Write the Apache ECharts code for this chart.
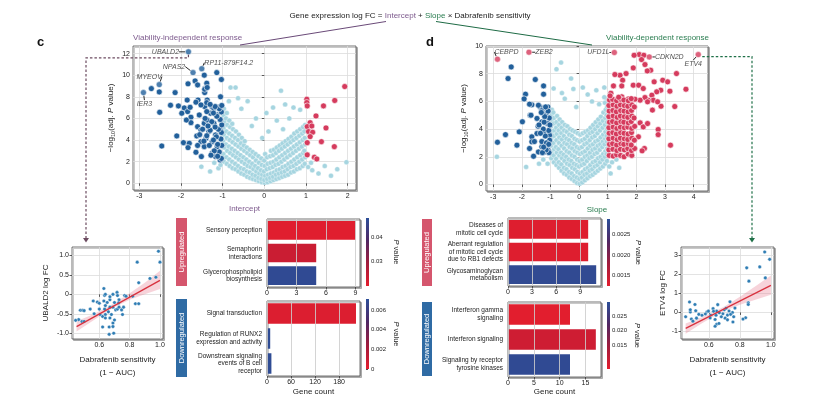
<!DOCTYPE html>
<html><head><meta charset="utf-8">
<script src="https://cdn.jsdelivr.net/npm/echarts@6/dist/echarts.min.js"></script>
<style>html,body{margin:0;padding:0;background:#fff}#c{width:817px;height:395px}</style>
</head><body><div id="c"></div>
<script>
// ---------------- DATA ----------------
// Panel c volcano (x = Intercept, y = -log10 adj P)
const volcCLight = [
[-0.97,2.0],[-0.98,2.7],[-0.96,3.3],[-0.99,3.9],[-0.97,4.5],[-0.98,5.1],[-0.96,5.7],[-0.98,6.3],[-0.97,6.9],
[-0.9,1.8],[-0.91,2.4],[-0.89,3.0],[-0.92,3.6],[-0.9,4.2],[-0.91,4.8],[-0.89,5.4],[-0.92,6.0],[-0.9,6.5],
[-0.83,1.6],[-0.84,2.2],[-0.82,2.8],[-0.85,3.4],[-0.83,4.0],[-0.84,4.6],[-0.82,5.2],[-0.84,5.8],
[-0.76,1.4],[-0.77,2.0],[-0.75,2.6],[-0.78,3.2],[-0.76,3.8],[-0.77,4.4],[-0.75,5.0],[-0.77,5.5],
[-0.69,1.3],[-0.7,1.8],[-0.68,2.4],[-0.71,3.0],[-0.69,3.6],[-0.7,4.2],[-0.68,4.8],
[-0.62,1.1],[-0.63,1.6],[-0.61,2.2],[-0.64,2.8],[-0.62,3.4],[-0.63,4.0],[-0.61,4.5],
[-0.55,0.9],[-0.56,1.4],[-0.54,2.0],[-0.57,2.6],[-0.55,3.2],[-0.56,3.7],[-0.54,4.2],
[-0.48,0.8],[-0.49,1.3],[-0.47,1.8],[-0.5,2.4],[-0.48,3.0],[-0.49,3.5],[-0.47,3.9],
[-0.41,0.6],[-0.42,1.1],[-0.4,1.6],[-0.43,2.2],[-0.41,2.8],[-0.42,3.3],
[-0.34,0.5],[-0.35,1.0],[-0.33,1.5],[-0.36,2.0],[-0.34,2.6],[-0.35,3.1],
[-0.27,0.4],[-0.28,0.8],[-0.26,1.3],[-0.29,1.8],[-0.27,2.4],[-0.28,2.9],
[-0.2,0.3],[-0.21,0.7],[-0.19,1.1],[-0.22,1.6],[-0.2,2.1],[-0.21,2.7],
[-0.13,0.2],[-0.14,0.5],[-0.12,0.9],[-0.15,1.4],[-0.13,1.9],[-0.14,2.5],
[-0.06,0.1],[-0.07,0.4],[-0.05,0.8],[-0.08,1.2],[-0.06,1.7],[-0.07,2.3],
[0.01,0.05],[0.0,0.3],[0.02,0.7],[-0.01,1.1],[0.01,1.6],[0.0,2.1],[0.02,2.7],
[0.08,0.1],[0.07,0.4],[0.09,0.8],[0.06,1.3],[0.08,1.8],[0.07,2.4],
[0.15,0.2],[0.14,0.5],[0.16,0.9],[0.13,1.4],[0.15,1.9],[0.14,2.5],[0.16,3.0],
[0.22,0.3],[0.21,0.6],[0.23,1.0],[0.2,1.5],[0.22,2.0],[0.21,2.6],[0.23,3.1],
[0.29,0.4],[0.28,0.8],[0.3,1.2],[0.27,1.7],[0.29,2.2],[0.28,2.8],[0.3,3.3],
[0.36,0.5],[0.35,0.9],[0.37,1.3],[0.34,1.8],[0.36,2.4],[0.35,3.0],[0.37,3.5],
[0.43,0.6],[0.42,1.0],[0.44,1.5],[0.41,2.0],[0.43,2.6],[0.42,3.2],[0.44,3.7],
[0.5,0.7],[0.49,1.1],[0.51,1.6],[0.48,2.2],[0.5,2.8],[0.49,3.4],[0.51,3.9],
[0.57,0.8],[0.56,1.3],[0.58,1.8],[0.55,2.4],[0.57,3.0],[0.56,3.6],[0.58,4.1],
[0.64,1.0],[0.63,1.5],[0.65,2.0],[0.62,2.6],[0.64,3.2],[0.63,3.8],[0.65,4.3],
[0.71,1.1],[0.7,1.6],[0.72,2.2],[0.69,2.8],[0.71,3.4],[0.7,4.0],[0.72,4.6],
[0.78,1.3],[0.77,1.8],[0.79,2.4],[0.76,3.0],[0.78,3.6],[0.77,4.2],[0.79,4.8],
[0.85,1.4],[0.84,2.0],[0.86,2.6],[0.83,3.2],[0.85,3.8],[0.84,4.4],[0.86,5.0],
[0.92,1.6],[0.91,2.2],[0.93,2.8],[0.9,3.4],[0.92,4.0],[0.91,4.6],[0.93,5.2],
[0.97,1.8],[0.98,2.4],[0.96,3.0],[0.98,3.6],[0.97,4.2],[0.96,4.8],[0.98,5.4],
[-1.51,1.54],[-1.2,1.9],[-1.1,1.4],[-1.05,1.7],[-1.3,1.1],[1.05,1.5],[1.15,1.2],[1.3,0.9],[1.45,1.6],[1.6,0.7],[1.75,1.3],[1.97,1.95],[1.12,1.9],
[-0.81,8.85],[-0.69,8.85],[-0.63,7.87],[0.4,8.57],[0.5,7.3],[0.21,7.0],[0.7,7.0],[0.86,6.8],[0.05,6.5],[-0.4,7.6],[-0.55,6.9],[-0.2,6.0],[0.3,5.8],[0.6,6.0],[-0.85,7.6],[-0.3,5.3],[0.1,4.8],[0.45,5.0],[-0.05,4.2]
];
const volcCDown = [
[-1.44,10.0],[-1.14,10.24],[-1.03,9.6],[-1.66,9.47],[-1.6,9.1],[-1.83,9.2],[-1.42,8.76],[-1.38,9.26],[-1.43,8.39],[-2.71,8.76],[-2.52,8.45],[-2.14,8.39],
[-1.43,8.7],[-1.37,8.86],[-1.85,7.7],[-1.59,7.7],[-1.37,7.7],[-1.43,7.1],[-1.05,8.0],[-1.25,7.05],[-1.09,7.05],
[-2.25,7.22],[-2.06,7.16],[-2.51,6.57],[-2.1,4.38],[-2.46,3.45],[-1.94,3.76],[-1.8,3.7],[-1.83,3.3],[-1.64,2.87],[-1.51,2.47],
[-1.92,6.97],[-1.84,6.63],[-1.98,6.48],[-1.78,7.03],[-1.64,7.5],[-1.52,7.25],[-1.38,7.46],[-1.76,6.11],[-1.76,5.61],[-1.56,6.32],
[-1.6,5.24],[-1.62,4.38],[-1.52,4.93],[-1.44,5.55],[-1.37,5.86],[-1.29,6.48],[-1.21,6.94],[-1.09,7.0],[-1.13,6.32],[-1.21,5.55],
[-1.33,4.78],[-1.4,4.16],[-1.52,3.85],[-1.25,3.85],[-1.17,4.47],[-1.06,4.93],[-1.05,5.86],[-1.13,3.39],[-1.25,2.78],[-1.17,2.47],
[-1.06,2.16],[-1.44,3.39],[-1.38,6.63],[-1.87,5.85],
[-1.03,2.3],[-1.08,2.9],[-1.02,3.5],[-1.12,3.6],[-1.04,4.1],[-1.15,4.3],[-1.03,4.7],[-1.1,5.0],[-1.02,5.4],[-1.18,5.2],[-1.06,5.9],
[-1.14,6.2],[-1.03,6.6],[-1.22,6.5],[-1.26,5.7],[-1.3,4.9],[-1.22,4.0],[-1.32,3.5],[-1.2,3.0],[-1.28,2.6],[-1.12,2.5],[-1.38,4.4],
[-1.35,5.3],[-1.42,6.0],[-1.48,5.0],[-1.45,3.9],[-1.55,4.5],[-1.6,3.5],[-1.08,6.9],[-1.18,7.1],[-1.3,7.3],[-1.02,7.2]
];
const volcCUp = [
[1.93,8.95],[1.69,7.66],[1.42,7.16],[1.02,7.78],[1.02,7.47],[1.03,7.16],[1.24,6.23],[1.1,5.61],[1.03,5.24],[1.14,5.3],
[1.06,4.78],[1.16,4.72],[1.48,5.12],[1.1,4.32],[1.03,3.76],[1.37,3.85],[1.68,3.39],[1.03,2.63],[1.2,2.41],[1.26,2.25]
];
const genesCNames = ['UBALD2','RP11-879F14.2','NPAS2','MYEOV','IER3'];
const genesCValues = [[-1.82,12.16],[-1.5,10.6],[-1.71,10.24],[-2.52,9.13],[-2.9,8.39]];

// Panel d volcano (x = Slope)
const volcDLight = [
[-0.97,1.9],[-0.96,2.35],[-0.98,2.8],[-0.97,3.3],[-0.95,3.75],[-0.98,4.2],[-0.96,4.65],[-0.97,5.0],[-0.95,5.4],
[-0.88,1.6],[-0.89,2.1],[-0.87,2.55],[-0.9,3.0],[-0.88,3.5],[-0.87,3.9],[-0.89,4.4],[-0.88,4.8],[-0.9,5.2],
[-0.79,1.4],[-0.8,1.85],[-0.78,2.3],[-0.81,2.7],[-0.79,3.2],[-0.78,3.65],[-0.8,4.1],[-0.79,4.5],[-0.77,4.95],
[-0.7,1.2],[-0.71,1.6],[-0.69,2.1],[-0.72,2.55],[-0.7,3.0],[-0.69,3.4],[-0.71,3.9],[-0.7,4.3],[-0.68,4.7],
[-0.61,1.0],[-0.62,1.45],[-0.6,1.9],[-0.63,2.3],[-0.61,2.8],[-0.6,3.25],[-0.62,3.7],[-0.61,4.1],[-0.59,4.5],
[-0.52,0.8],[-0.53,1.2],[-0.51,1.7],[-0.54,2.15],[-0.52,2.6],[-0.51,3.0],[-0.53,3.5],[-0.52,3.9],[-0.5,4.3],
[-0.43,0.7],[-0.44,1.1],[-0.42,1.5],[-0.45,2.0],[-0.43,2.4],[-0.42,2.9],[-0.44,3.3],[-0.43,3.8],[-0.41,4.2],
[-0.34,0.5],[-0.35,0.9],[-0.33,1.4],[-0.36,1.8],[-0.34,2.3],[-0.33,2.7],[-0.35,3.2],[-0.34,3.6],[-0.32,4.0],
[-0.25,0.4],[-0.26,0.8],[-0.24,1.2],[-0.27,1.7],[-0.25,2.1],[-0.24,2.6],[-0.26,3.0],[-0.25,3.5],[-0.23,3.9],
[-0.16,0.25],[-0.17,0.6],[-0.15,1.1],[-0.18,1.5],[-0.16,2.0],[-0.15,2.4],[-0.17,2.9],[-0.16,3.3],[-0.14,3.8],
[-0.07,0.1],[-0.08,0.5],[-0.06,0.9],[-0.09,1.4],[-0.07,1.8],[-0.06,2.3],[-0.08,2.7],[-0.07,3.2],[-0.05,3.7],
[0.02,0.05],[0.01,0.4],[0.03,0.8],[0.0,1.3],[0.02,1.7],[0.03,2.2],[0.01,2.6],[0.02,3.1],[0.04,3.6],
[0.11,0.15],[0.1,0.5],[0.12,0.9],[0.09,1.4],[0.11,1.8],[0.12,2.3],[0.1,2.7],[0.11,3.2],[0.13,3.7],
[0.2,0.3],[0.19,0.7],[0.21,1.1],[0.18,1.5],[0.2,2.0],[0.21,2.4],[0.19,2.9],[0.2,3.3],[0.22,3.8],
[0.29,0.45],[0.28,0.8],[0.3,1.2],[0.27,1.7],[0.29,2.1],[0.3,2.6],[0.28,3.0],[0.29,3.5],[0.31,3.9],
[0.38,0.6],[0.37,1.0],[0.39,1.4],[0.36,1.9],[0.38,2.3],[0.39,2.8],[0.37,3.2],[0.38,3.7],[0.4,4.1],
[0.47,0.7],[0.46,1.1],[0.48,1.6],[0.45,2.0],[0.47,2.5],[0.48,2.9],[0.46,3.4],[0.47,3.8],[0.49,4.3],
[0.56,0.85],[0.55,1.3],[0.57,1.7],[0.54,2.2],[0.56,2.6],[0.57,3.1],[0.55,3.5],[0.56,4.0],[0.58,4.5],
[0.65,1.0],[0.64,1.4],[0.66,1.9],[0.63,2.3],[0.65,2.8],[0.66,3.2],[0.64,3.7],[0.65,4.2],[0.67,4.7],
[0.74,1.15],[0.73,1.6],[0.75,2.0],[0.72,2.5],[0.74,2.9],[0.75,3.4],[0.73,3.9],[0.74,4.4],[0.76,4.9],
[0.83,1.3],[0.82,1.8],[0.84,2.2],[0.81,2.7],[0.83,3.1],[0.84,3.6],[0.82,4.1],[0.83,4.6],[0.85,5.2],
[0.91,1.5],[0.9,2.0],[0.92,2.4],[0.89,2.9],[0.91,3.3],[0.92,3.8],[0.9,4.3],[0.91,4.8],[0.93,5.4],[0.9,5.9],
[0.97,1.7],[0.96,2.2],[0.98,2.6],[0.97,3.1],[0.96,3.5],[0.98,4.0],[0.97,4.5],[0.96,5.0],[0.98,5.6],[0.97,6.2],
[1.05,1.3],[1.15,1.6],[1.3,1.8],[1.1,0.8],[1.4,1.2],[-1.1,1.5],[-1.4,1.5],[-1.85,1.27],[-2.87,2.0],[-1.25,1.8],
[-0.63,8.8],[-0.79,8.33],[-0.28,7.65],[-0.89,6.93],[0.13,7.0],[0.88,7.0],[0.88,6.3],[-0.5,6.2],[0.3,6.5],[-0.2,6.9],[0.6,6.8],[-0.6,6.6],[0.45,6.0],[-0.1,5.6],[0.7,5.8]
];
const volcDDown = [
[-2.37,8.49],[-2.48,7.65],[-1.53,7.58],[-1.24,7.12],[-1.24,6.52],[-1.87,6.52],[-1.92,6.18],[-1.65,5.75],[-1.36,5.6],[-1.71,5.0],
[-2.85,3.05],[-2.57,3.6],[-2.17,2.84],[-1.98,4.53],[-2.09,3.8],[-1.73,2.6],[-1.65,3.44],[-1.65,3.08],[-1.42,5.72],[-1.68,5.0],
[-1.73,5.8],[-1.47,4.77],[-1.43,4.21],[-1.3,4.52],[-1.24,3.8],[-1.15,5.12],[-1.09,5.6],[-1.3,5.33],[-1.47,3.68],[-1.56,3.1],
[-1.42,2.35],[-1.2,2.35],[-1.14,2.96],[-1.08,2.47],[-1.3,2.72],[-1.59,2.04],[-1.08,4.4],[-1.03,3.56],
[-1.05,2.3],[-1.12,2.8],[-1.03,3.2],[-1.18,3.5],[-1.06,3.9],[-1.25,4.0],[-1.1,4.4],[-1.04,4.8],[-1.2,4.9],[-1.08,5.3],[-1.3,3.1],
[-1.15,2.5],[-1.28,2.3],[-1.22,4.5],[-1.35,3.7],[-1.4,4.3],[-1.14,3.0],[-1.02,4.3],[-1.32,5.2],[-1.17,5.6],[-1.06,2.9],[-1.24,2.7]
];
const volcDUp = [
[2.1,9.38],[2.26,9.33],[1.92,9.33],[2.18,9.02],[2.3,8.66],[2.5,8.25],[2.38,8.2],[1.89,8.42],[1.64,8.01],[1.43,7.89],[1.25,7.94],
[3.4,8.01],[1.52,7.53],[1.49,7.12],[1.2,7.12],[1.89,7.17],[2.08,7.17],[2.24,6.93],[2.62,7.41],[2.92,7.53],[3.09,7.41],[3.17,6.74],
[3.73,6.88],[2.85,6.81],[2.71,6.69],[2.54,6.45],[2.59,6.09],[2.41,6.09],[2.3,6.28],[2.13,6.09],[1.95,6.16],[1.72,6.18],[1.49,6.33],
[1.29,6.09],[1.11,6.59],[2.86,5.65],[3.34,5.63],[2.56,5.37],[2.39,5.97],[2.74,5.97],[2.13,4.45],[2.24,4.16],[2.39,4.4],[2.76,3.97],
[2.76,3.6],[2.07,3.44],[2.28,2.6],[2.2,2.43],[3.19,2.84],
[1.05,2.1],[1.19,2.05],[1.31,2.15],[1.45,2.1],[1.57,2.0],[1.71,2.2],[1.84,2.1],
[1.04,2.5],[1.18,2.55],[1.32,2.45],[1.44,2.55],[1.58,2.5],[1.7,2.6],[1.83,2.45],[1.94,2.6],
[1.06,2.9],[1.17,2.95],[1.31,2.85],[1.46,2.95],[1.56,2.9],[1.72,2.95],[1.82,2.85],
[1.04,3.3],[1.19,3.35],[1.33,3.25],[1.44,3.35],[1.58,3.3],[1.7,3.25],[1.84,3.35],[1.93,3.2],
[1.05,3.7],[1.18,3.75],[1.3,3.65],[1.45,3.75],[1.57,3.7],[1.71,3.65],[1.83,3.75],
[1.04,4.1],[1.19,4.15],[1.32,4.05],[1.44,4.15],[1.58,4.1],[1.7,4.15],[1.84,4.05],[1.94,4.2],
[1.06,4.5],[1.17,4.55],[1.31,4.45],[1.46,4.55],[1.56,4.5],[1.72,4.45],[1.82,4.55],
[1.04,4.9],[1.19,4.95],[1.33,4.85],[1.44,4.95],[1.58,4.9],[1.7,4.85],[1.84,4.95],[1.92,4.8],
[1.05,5.3],[1.18,5.35],[1.3,5.25],[1.45,5.35],[1.57,5.3],[1.71,5.25],[1.83,5.35],
[1.04,5.7],[1.19,5.75],[1.32,5.65],[1.44,5.75],[1.58,5.7],[1.7,5.65],[1.84,5.75],[1.93,5.6],
[1.06,6.1],[1.17,6.15],[1.31,6.05],[1.46,6.15],[1.56,6.1],[1.72,6.05],[1.82,6.2],[1.08,6.4],[1.38,6.3]
];
const genesDNames = ['CEBPD','ZEB2','UFD1L','CDKN2D','ETV4'];
const genesDValues = [[-2.85,9.05],[-1.75,9.55],[1.23,9.53],[2.45,9.21],[4.16,9.38]];

// Panel c, left scatter: UBALD2 log FC vs dabrafenib sensitivity
const ubald2Points = [
[1.0,0.83],[0.99,1.11],[0.85,0.83],[0.934,0.41],[0.973,0.44],[0.86,0.3],[0.838,-0.24],[0.86,-0.24],[0.82,-0.05],[0.767,-0.03],
[0.717,0.05],[0.72,-0.03],[0.63,0.15],[0.635,-0.03],[0.67,-0.14],[0.652,-0.21],[0.63,-0.17],[0.587,-0.2],[0.56,-0.17],[0.54,-0.38],
[0.475,-0.41],[0.49,-0.41],[0.5,-0.42],[0.464,-0.65],[0.444,-0.67],[0.486,-0.7],[0.5,-0.7],[0.566,-0.5],[0.6,-0.38],[0.605,-0.52],
[0.622,-0.57],[0.64,-0.52],[0.66,-0.45],[0.69,-0.33],[0.708,-0.4],[0.72,-0.38],[0.73,-0.33],[0.747,-0.4],[0.753,-0.52],[0.68,-0.52],
[0.67,-0.61],[0.64,-0.61],[0.622,-0.84],[0.665,-0.84],[0.69,-0.74],[0.69,-0.83],[0.7,-0.66],[0.695,-1.0],[0.665,-1.03],[0.635,-0.38],
[0.6,-0.23],[0.64,-0.29],[0.67,-0.33],[0.7,-0.21],[0.73,-0.14],[0.76,-0.33],[0.776,-0.05],[0.67,-0.06],[0.64,0.0],[0.69,0.0],[0.728,-0.22]
];
const ubald2FitX = [0.45, 1.0];
const ubald2FitY = [-0.83, 0.36];
const ubald2BandX = [0.45, 0.55, 0.65, 0.7, 0.8, 0.9, 1.0];
const ubald2BandLo = [-0.96, -0.70, -0.44, -0.33, -0.14, 0.0, 0.14];
const ubald2BandHi = [-0.69, -0.53, -0.33, -0.22, 0.03, 0.30, 0.61];

// Panel d, right scatter: ETV4 log FC vs dabrafenib sensitivity
const etv4Points = [
[0.96,3.19],[0.992,2.8],[0.928,2.4],[0.844,2.35],[0.858,1.65],[0.964,1.82],[0.854,0.51],[0.854,0.42],[0.837,-0.28],[0.82,-0.35],
[0.736,0.56],[0.768,0.23],[0.752,0.0],[0.73,0.08],[0.72,-0.14],[0.76,-0.23],[0.755,-0.5],[0.7,0.14],[0.69,-0.07],[0.705,-0.3],
[0.72,-0.39],[0.68,-0.23],[0.657,0.41],[0.65,0.07],[0.646,-0.15],[0.64,-0.37],[0.65,-0.62],[0.665,-0.58],[0.64,-0.73],[0.627,0.2],
[0.63,0.06],[0.612,-0.15],[0.608,-0.29],[0.587,0.02],[0.577,-0.08],[0.555,-0.15],[0.535,-0.1],[0.515,0.09],[0.48,0.02],[0.475,0.55],
[0.48,0.14],[0.45,-0.23],[0.487,-0.35],[0.497,-0.46],[0.52,-0.3],[0.51,0.42],[0.597,0.07],[0.667,-0.02],[0.71,0.22],[0.74,-0.1]
];
const etv4FitX = [0.45, 1.0];
const etv4FitY = [-0.84, 1.43];
const etv4BandX = [0.45, 0.55, 0.65, 0.7, 0.8, 0.9, 1.0];
const etv4BandLo = [-1.12, -0.60, -0.12, 0.08, 0.40, 0.67, 0.93];
const etv4BandHi = [-0.58, -0.27, 0.10, 0.31, 0.83, 1.38, 1.95];

// Enrichment bars
const barCUpCats = ['Sensory perception','Semaphorin\ninteractions','Glycerophospholipid\nbiosynthesis'];
const barCUpCounts = [9, 5, 5];
const barCUpP = [0.0205, 0.0235, 0.047];
const barCDownCats = ['Signal transduction','Regulation of RUNX2\nexpression and activity','Downstream signaling\nevents of B cell\nreceptor'];
const barCDownCounts = [222, 8, 11];
const barCDownP = [0.0003, 0.0069, 0.0069];
const barDUpCats = ['Diseases of\nmitotic cell cycle','Aberrant regulation\nof mitotic cell cycle\ndue to RB1 defects','Glycosaminoglycan\nmetabolism'];
const barDUpCounts = [10, 10, 11];
const barDUpP = [0.0013, 0.0013, 0.0028];
const barDDownCats = ['Interferon gamma\nsignaling','Interferon signaling','Signaling by receptor\ntyrosine kinases'];
const barDDownCounts = [12, 17, 12];
const barDDownP = [0.0068, 0.0092, 0.029];

// Colour-bar ranges and ticks
const cbCUpRange = [0.0199, 0.0481];   const cbCUpTicks = [0.03, 0.04];
const cbCDownRange = [0, 0.0071];      const cbCDownTicks = [0, 0.002, 0.004, 0.006];
const cbDUpRange = [0.00125, 0.00287]; const cbDUpTicks = [0.0015, 0.002, 0.0025];
const cbDDownRange = [0.0066, 0.0299]; const cbDDownTicks = [0.015, 0.02, 0.025];

// Axis ticks
const volcCXTicks = [-3,-2,-1,0,1,2];
const volcCYTicks = [0,2,4,6,8,10,12];
const volcDXTicks = [-3,-2,-1,0,1,2,3,4];
const volcDYTicks = [0,2,4,6,8,10];
const sensTicks = [0.6, 0.8, 1.0];
const ubald2YTicks = [-1,-0.5,0,0.5,1];
const etv4YTicks = [-1,0,1,2,3];
const barCUpTicks = [0,3,6,9];
const barCDownTicks = [0,60,120,180];
const barDUpTicks = [0,3,6,9];
const barDDownTicks = [0,5,10,15];

// ---------------- STYLE ----------------
const FONT = '"Liberation Sans", Arial, Helvetica, sans-serif';
const PURPLE = '#7d5a8d', GREEN = '#2a7d50';
const DARKBLUE = '#22609b', RED = '#d53b5d', LIGHT = '#a6d5e0', SMALLPT = '#2f7db4';
const PCOLORS = ['#e41e2e', '#a11c3c', '#4f2763', '#2c4f99'];

const chart = echarts.init(document.getElementById('c'), null, {renderer: 'canvas'});

function frame(l, t, w, h) {
  return {left: l, top: t, width: w, height: h, show: true, backgroundColor: '#fff',
    borderColor: '#3a3a3a', borderWidth: 0.7, shadowColor: 'rgba(0,0,0,0.3)',
    shadowOffsetX: 1.5, shadowOffsetY: 1.5, shadowBlur: 0, outerBoundsMode: 'none', containLabel: false};
}
function plain(l, t, w, h) {
  return {left: l, top: t, width: w, height: h, show: false, outerBoundsMode: 'none', containLabel: false};
}
function vAxis(gi, min, max, ticks, fmt, grid, extra) {
  return Object.assign({
    type: 'value', gridIndex: gi, min: min, max: max,
    axisLine: {show: false},
    axisTick: {show: true, length: 2.5, lineStyle: {color: '#333', width: 0.8}, customValues: ticks},
    axisLabel: {customValues: ticks, fontSize: 7, color: '#222', fontFamily: FONT, margin: 3, formatter: fmt},
    splitLine: {show: grid, lineStyle: {color: '#dcdcdc', width: 0.8}}
  }, extra || {});
}
const f1 = v => (v === 0 ? '0' : v.toFixed(1));
const nameStyle = (c, s) => ({color: c || '#222', fontSize: s || 8, fontFamily: FONT});

const grids = [
  frame(133, 46, 223, 144),   // 0 volcano c
  frame(486, 46, 222, 145),   // 1 volcano d
  frame(72, 247, 91, 92),     // 2 UBALD2
  frame(681, 247, 93, 92),    // 3 ETV4
  frame(267, 219, 93, 68),    // 4 bar c up
  frame(267, 301, 93, 75),    // 5 bar c down
  frame(508, 218, 93, 68),    // 6 bar d up
  frame(508, 302, 93, 75),    // 7 bar d down
  plain(366, 218, 3, 68),     // 8 cb c up
  plain(366, 299, 3, 70),     // 9 cb c down
  plain(607, 219, 3, 67),     // 10 cb d up
  plain(607, 302, 3, 67)      // 11 cb d down
];

const pName = '{i|P} value';
const pRich = {i: {fontStyle: 'italic', fontSize: 7.5, fontFamily: FONT, color: '#222'}};

const xAxes = [
  vAxis(0, -3.15, 2.2, volcCXTicks, null, true, {name: 'Intercept', nameLocation: 'middle', nameGap: 15, nameTextStyle: nameStyle(PURPLE, 8)}),
  vAxis(1, -3.25, 4.5, volcDXTicks, null, true, {name: 'Slope', nameLocation: 'middle', nameGap: 15, nameTextStyle: nameStyle(GREEN, 8)}),
  vAxis(2, 0.42, 1.02, sensTicks, f1, true, {name: 'Dabrafenib sensitivity\n(1 \u2212 AUC)', nameLocation: 'middle', nameGap: 14, nameTextStyle: Object.assign(nameStyle('#222', 8), {lineHeight: 13})}),
  vAxis(3, 0.42, 1.02, sensTicks, f1, true, {name: 'Dabrafenib sensitivity\n(1 \u2212 AUC)', nameLocation: 'middle', nameGap: 14, nameTextStyle: Object.assign(nameStyle('#222', 8), {lineHeight: 13})}),
  vAxis(4, 0, 9.45, barCUpTicks, null, true, {z: 3}),
  vAxis(5, 0, 232, barCDownTicks, null, true, {z: 3, name: 'Gene count', nameLocation: 'middle', nameGap: 12, nameTextStyle: nameStyle('#222', 8)}),
  vAxis(6, 0, 11.6, barDUpTicks, null, true, {z: 3}),
  vAxis(7, 0, 18, barDDownTicks, null, true, {z: 3, name: 'Gene count', nameLocation: 'middle', nameGap: 11, nameTextStyle: nameStyle('#222', 8)}),
  {type: 'value', gridIndex: 8, min: 0, max: 1, show: false},
  {type: 'value', gridIndex: 9, min: 0, max: 1, show: false},
  {type: 'value', gridIndex: 10, min: 0, max: 1, show: false},
  {type: 'value', gridIndex: 11, min: 0, max: 1, show: false}
];
xAxes.slice(4, 8).forEach(a => { a.splitLine.lineStyle = {color: 'rgba(205,205,205,0.85)', width: 1}; });

const volcYName = '\u2212log{s|10}(adj. {i|P} value)';
const volcYRich = {s: {fontSize: 5.5, fontFamily: FONT, color: '#222', verticalAlign: 'bottom', padding: [4, 0, 0, 0]}, i: {fontStyle: 'italic', fontSize: 8, fontFamily: FONT, color: '#222'}};

function catAxis(gi, cats) {
  return {type: 'category', gridIndex: gi, data: cats, inverse: true,
    axisLine: {show: false}, axisTick: {show: false}, splitLine: {show: false},
    axisLabel: {fontSize: 6.5, lineHeight: 7.6, color: '#222', fontFamily: FONT, margin: 5, align: 'right', interval: 0}};
}
function cbAxis(gi, range, ticks, fmt) {
  return {type: 'value', gridIndex: gi, min: range[0], max: range[1], position: 'right',
    axisLine: {show: false}, splitLine: {show: false},
    axisTick: {show: true, length: 2, inside: false, customValues: ticks, lineStyle: {color: '#222', width: 0.8}},
    axisLabel: {customValues: ticks, fontSize: 6, color: '#222', fontFamily: FONT, margin: 2, formatter: fmt}};
}

const yAxes = [
  vAxis(0, -0.62, 12.7, volcCYTicks, null, true, {name: volcYName, nameLocation: 'middle', nameGap: 17, nameRotate: 90, nameTextStyle: Object.assign(nameStyle('#222', 8), {rich: volcYRich})}),
  vAxis(1, -0.47, 10, volcDYTicks, null, true, {name: volcYName, nameLocation: 'middle', nameGap: 17, nameRotate: 90, nameTextStyle: Object.assign(nameStyle('#222', 8), {rich: volcYRich})}),
  vAxis(2, -1.15, 1.22, ubald2YTicks, f1, true, {name: 'UBALD2 log FC', nameLocation: 'middle', nameGap: 22, nameTextStyle: nameStyle('#222', 8)}),
  vAxis(3, -1.4, 3.45, etv4YTicks, null, true, {name: 'ETV4 log FC', nameLocation: 'middle', nameGap: 14, nameTextStyle: nameStyle('#222', 8)}),
  catAxis(4, barCUpCats), catAxis(5, barCDownCats), catAxis(6, barDUpCats), catAxis(7, barDDownCats),
  cbAxis(8, cbCUpRange, cbCUpTicks, v => v.toFixed(2)),
  cbAxis(9, cbCDownRange, cbCDownTicks, v => (v === 0 ? '0' : v.toFixed(3))),
  cbAxis(10, cbDUpRange, cbDUpTicks, v => v.toFixed(4)),
  cbAxis(11, cbDDownRange, cbDDownTicks, v => v.toFixed(3))
];
[8, 9, 10, 11].forEach(i => {
  Object.assign(yAxes[i], {name: pName, nameLocation: 'middle', nameRotate: -90, nameGap: 23,
    nameTextStyle: {fontSize: 7.5, fontFamily: FONT, color: '#222', rich: pRich}});
});

function pts(ax, data, color, size, bw, z) {
  return {type: 'scatter', xAxisIndex: ax, yAxisIndex: ax, data: data, symbolSize: size, silent: true, z: z,
    itemStyle: {color: color, borderColor: '#fff', borderWidth: bw, opacity: 1}};
}
const labOffC = [[-23, 0], [27, -6], [-19, -6], [-10, -8], [1, 11]];
const labOffD = [[9, -7], [15, 0], [-16, 0], [20, 0], [-5, 9]];
function genes(ax, names, vals, color, offs) {
  return {type: 'scatter', xAxisIndex: ax, yAxisIndex: ax, symbolSize: 6, z: 6, silent: true,
    data: names.map((n, i) => ({name: n, value: vals[i]})),
    itemStyle: {color: color, borderColor: '#fff', borderWidth: 0.6},
    label: {show: true, position: 'inside', formatter: '{b}', fontSize: 7, fontStyle: 'italic', color: '#222', fontFamily: FONT},
    labelLayout: p => ({dx: offs[p.dataIndex][0], dy: offs[p.dataIndex][1]}),
    labelLine: {show: true, lineStyle: {color: '#111', width: 0.9}}};
}
function fitLine(ax, xs, ys) {
  return {type: 'line', xAxisIndex: ax, yAxisIndex: ax, data: xs.map((x, i) => [x, ys[i]]), symbol: 'none', silent: true, z: 5,
    lineStyle: {color: '#d8323f', width: 1.3}};
}
function band(ax, xs, lo, hi) {
  return {type: 'custom', xAxisIndex: ax, yAxisIndex: ax, silent: true, z: 3,
    data: [[xs[0], lo[0]]],
    renderItem: (params, api) => {
      const up = xs.map((x, i) => api.coord([x, hi[i]]));
      const dn = xs.map((x, i) => api.coord([x, lo[i]])).reverse();
      return {type: 'polygon', shape: {points: up.concat(dn)}, style: {fill: 'rgba(232,130,148,0.35)'}};
    }};
}
function bars(ax, cats, counts, ps) {
  return {type: 'bar', xAxisIndex: ax, yAxisIndex: ax, barWidth: '82%', silent: true, z: 2,
    encode: {x: 0, y: 1},
    data: counts.map((c, i) => [c, cats[i], ps[i]])};
}
function colorbar(ax, range) {
  return {type: 'custom', xAxisIndex: ax, yAxisIndex: ax, silent: true,
    data: [[0, range[0], range[1]]],
    renderItem: (params, api) => {
      const a = api.coord([0, api.value(2)]);
      const b = api.coord([1, api.value(1)]);
      return {type: 'rect', shape: {x: a[0], y: a[1], width: b[0] - a[0], height: b[1] - a[1]},
        style: {fill: new echarts.graphic.LinearGradient(0, 1, 0, 0,
          PCOLORS.map((c, i) => ({offset: i / (PCOLORS.length - 1), color: c})))}};
    }};
}

const series = [
  pts(0, volcCLight, LIGHT, 5, 0.35, 2),
  pts(0, volcCDown, DARKBLUE, 6, 0.6, 4),
  pts(0, volcCUp, RED, 6, 0.6, 4),
  genes(0, genesCNames, genesCValues, DARKBLUE, labOffC),
  pts(1, volcDLight, LIGHT, 5, 0.35, 2),
  pts(1, volcDDown, DARKBLUE, 6, 0.6, 4),
  pts(1, volcDUp, RED, 6, 0.6, 4),
  genes(1, genesDNames, genesDValues, RED, labOffD),
  band(2, ubald2BandX, ubald2BandLo, ubald2BandHi),
  fitLine(2, ubald2FitX, ubald2FitY),
  pts(2, ubald2Points, SMALLPT, 3.6, 0.4, 4),
  band(3, etv4BandX, etv4BandLo, etv4BandHi),
  fitLine(3, etv4FitX, etv4FitY),
  pts(3, etv4Points, SMALLPT, 3.6, 0.4, 4),
  bars(4, barCUpCats, barCUpCounts, barCUpP),      // 14
  bars(5, barCDownCats, barCDownCounts, barCDownP),// 15
  bars(6, barDUpCats, barDUpCounts, barDUpP),      // 16
  bars(7, barDDownCats, barDDownCounts, barDDownP),// 17
  colorbar(8, cbCUpRange), colorbar(9, cbCDownRange), colorbar(10, cbDUpRange), colorbar(11, cbDDownRange)
];

const visualMap = [
  [14, cbCUpRange], [15, cbCDownRange], [16, cbDUpRange], [17, cbDDownRange]
].map(([si, r]) => ({type: 'continuous', show: false, seriesIndex: si, dimension: 2, min: r[0], max: r[1], inRange: {color: PCOLORS}}));

function txt(x, y, text, o) {
  return Object.assign({type: 'text', x: x, y: y, silent: true, z: 50,
    style: Object.assign({text: text, fontSize: 8, fontFamily: FONT, fill: '#222', align: 'left', verticalAlign: 'middle'}, (o && o.style) || {})},
    o ? {rotation: o.rotation || 0} : {});
}
function sideBox(x, y, w, h, color, label) {
  return [
    {type: 'rect', shape: {x: x, y: y, width: w, height: h}, style: {fill: color}, silent: true, z: 40},
    txt(x + w / 2, y + h / 2, label, {rotation: Math.PI / 2, style: {fill: '#fff', fontSize: 7.5, align: 'center'}})
  ];
}

const baseGraphic = [
  txt(410, 16, 'Gene expression log FC = {p|Intercept} + {g|Slope} \u00d7 Dabrafenib sensitivity', {style: {align: 'center', fontSize: 8,
    rich: {p: {fill: PURPLE, color: PURPLE, fontSize: 8, fontFamily: FONT}, g: {fill: GREEN, color: GREEN, fontSize: 8, fontFamily: FONT}}}}),
  {type: 'line', shape: {x1: 386, y1: 21.5, x2: 240, y2: 45}, style: {stroke: '#6a4a78', lineWidth: 1}, silent: true, z: 45},
  {type: 'line', shape: {x1: 436, y1: 21.5, x2: 592, y2: 45}, style: {stroke: '#1e6b45', lineWidth: 1}, silent: true, z: 45},
  txt(133, 38, 'Viability-independent response', {style: {fill: PURPLE, fontSize: 8}}),
  txt(709, 37.5, 'Viability-dependent response', {style: {fill: GREEN, fontSize: 8, align: 'right'}}),
  txt(37, 42, 'c', {style: {fontSize: 13, fontWeight: 'bold', fill: '#111'}}),
  txt(426, 42, 'd', {style: {fontSize: 13, fontWeight: 'bold', fill: '#111'}})
].concat(
  sideBox(176, 218, 11, 68, '#d5566d', 'Upregulated'),
  sideBox(176, 299, 11, 78, '#2f6ba4', 'Downregulated'),
  sideBox(422, 219, 10, 67, '#d5566d', 'Upregulated'),
  sideBox(422, 302, 10, 74, '#2f6ba4', 'Downregulated')
);

chart.setOption({
  animation: false,
  backgroundColor: '#fff',
  textStyle: {fontFamily: FONT},
  grid: grids, xAxis: xAxes, yAxis: yAxes, series: series, visualMap: visualMap,
  graphic: baseGraphic
});

// dashed connectors from the highlighted genes to the example scatter plots
const pU = chart.convertToPixel({gridIndex: 0}, genesCValues[0]);
const pE = chart.convertToPixel({gridIndex: 1}, genesDValues[4]);
const ubaldTop = chart.convertToPixel({gridIndex: 2}, [0.42, 1.22]);
const etvTop = chart.convertToPixel({gridIndex: 3}, [0.42, 3.45]);
const cX = 86, dX = 752;
const conn = [
  {type: 'polyline', shape: {points: [[pU[0], pU[1] + 3], [pU[0], pU[1] + 6], [cX, pU[1] + 6], [cX, ubaldTop[1] - 8]]},
    style: {stroke: '#6c4b60', lineWidth: 1.2, lineDash: [2.5, 2], fill: null}, silent: true, z: 45},
  {type: 'polygon', shape: {points: [[cX - 3, ubaldTop[1] - 9], [cX + 3, ubaldTop[1] - 9], [cX, ubaldTop[1] - 4.5]]},
    style: {fill: '#6c4b60'}, silent: true, z: 45},
  {type: 'polyline', shape: {points: [[pE[0] + 4, pE[1] + 2], [dX, pE[1] + 2], [dX, etvTop[1] - 8]]},
    style: {stroke: '#1f7048', lineWidth: 1.2, lineDash: [2.5, 2], fill: null}, silent: true, z: 45},
  {type: 'polygon', shape: {points: [[dX - 3, etvTop[1] - 9], [dX + 3, etvTop[1] - 9], [dX, etvTop[1] - 4.5]]},
    style: {fill: '#1f7048'}, silent: true, z: 45}
];
chart.setOption({graphic: baseGraphic.concat(conn)});
</script>
</body></html>
